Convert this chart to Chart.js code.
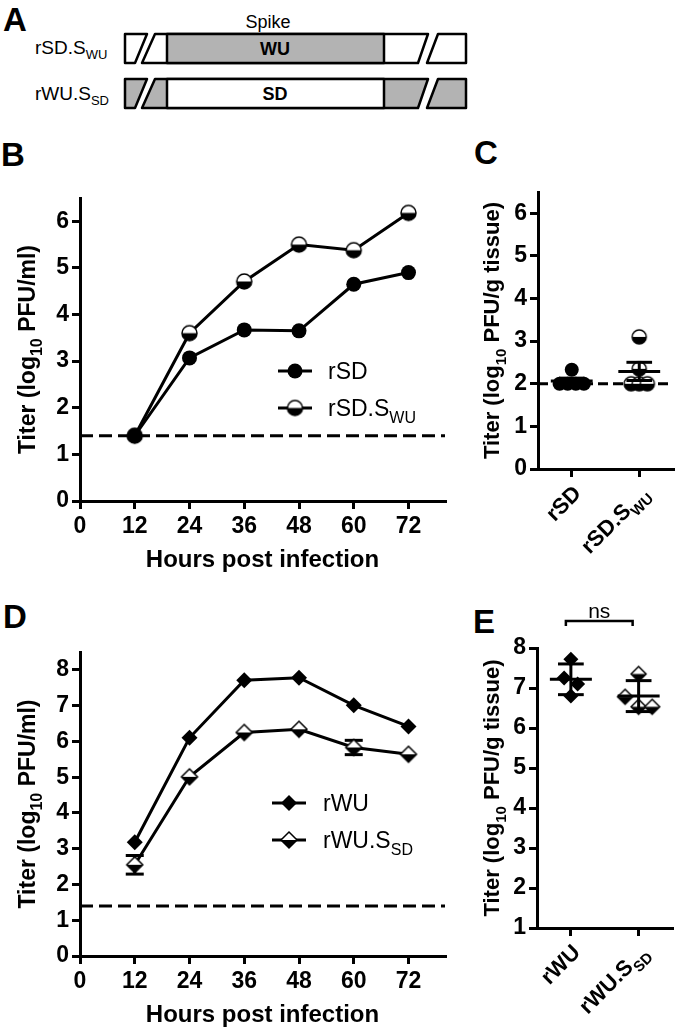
<!DOCTYPE html>
<html>
<head>
<meta charset="utf-8">
<script src="https://cdn.jsdelivr.net/npm/chart.js@4.4.0/dist/chart.umd.min.js"></script>
<style>
  body { margin: 0; background: #fff; font-family: "Liberation Sans", Arial, Helvetica, sans-serif; }
  #page { position: relative; width: 680px; height: 1031px; overflow: hidden; background: #fff; }
  canvas { position: absolute; }
  .lab { position: absolute; font-weight: bold; font-size: 33px; line-height: 1; color: #000; }
</style>
</head>
<body>
<div id="page">
  <!-- panel A: construct schematic -->
  <svg width="680" height="115" style="position:absolute;left:0;top:0" font-family="Liberation Sans, Arial, sans-serif">
    <text x="268" y="28" font-size="18" text-anchor="middle">Spike</text>
    <text x="35" y="54" font-size="19">rSD.S<tspan dy="5" font-size="13">WU</tspan></text>
    <text x="35" y="100" font-size="19">rWU.S<tspan dy="5" font-size="13">SD</tspan></text>
    <g stroke="#000" stroke-width="2.5" stroke-linejoin="round">
      <polygon points="125,34 147,34 135,63 125,63" fill="#fff"/>
      <polygon points="155,34 428,34 418,63 142,63" fill="#fff"/>
      <rect x="167" y="34" width="217" height="29" fill="#b3b3b3"/>
      <polygon points="438,34 466,34 466,63 427,63" fill="#fff"/>
      <polygon points="125,79 147,79 135,108 125,108" fill="#b3b3b3"/>
      <polygon points="155,79 428,79 418,108 142,108" fill="#b3b3b3"/>
      <rect x="167" y="79" width="217" height="29" fill="#fff"/>
      <polygon points="438,79 466,79 466,108 427,108" fill="#b3b3b3"/>
    </g>
    <text x="275" y="55" font-size="18" font-weight="bold" text-anchor="middle">WU</text>
    <text x="275" y="100" font-size="18" font-weight="bold" text-anchor="middle">SD</text>
  </svg>
  <div class="lab" style="left:3px;top:3px">A</div>
  <div class="lab" style="left:1px;top:138px">B</div>
  <div class="lab" style="left:474px;top:136px">C</div>
  <div class="lab" style="left:3px;top:600px">D</div>
  <div class="lab" style="left:473px;top:605px">E</div>

  <canvas id="chartB" width="460" height="400" style="left:0;top:180px"></canvas>
  <canvas id="chartC" width="220" height="410" style="left:460px;top:170px"></canvas>
  <canvas id="chartD" width="460" height="401" style="left:0;top:630px"></canvas>
  <canvas id="chartE" width="220" height="441" style="left:460px;top:590px"></canvas>
</div>
<script>
// growth curves (log10 PFU/ml)
var hours = [12, 24, 36, 48, 60, 72];
var rSD = [1.4, 3.07, 3.67, 3.65, 4.65, 4.9];
var rSDswu = [1.4, 3.6, 4.71, 5.5, 5.38, 6.18];
var rWU = [3.18, 6.1, 7.71, 7.78, 7.01, 6.42];
var rWUssd = [2.55, 5.01, 6.25, 6.34, 5.83, 5.64];
var rWUssdErr = [0.26, 0, 0, 0, 0.2, 0];
var limitCurve = 1.4;

// tissue titers (log10 PFU/g)
var groupsC = ["rSD", "rSD.SWU"];
var tissueSD = [2.33, 2.0, 2.0, 2.0, 2.0];
var tissueSDswu = [3.1, 2.35, 2.0, 2.0, 2.0];
var limitTissue = 2;
var groupsE = ["rWU", "rWU.SSD"];
var tissueWU = [7.72, 7.25, 7.1, 6.8];
var tissueWUssd = [7.35, 6.78, 6.53, 6.53];

// tick labels
var hourTicks = [0, 12, 24, 36, 48, 60, 72];
var yTicksB = [0, 1, 2, 3, 4, 5, 6];
var yTicksC = [0, 1, 2, 3, 4, 5, 6];
var yTicksD = [0, 1, 2, 3, 4, 5, 6, 7, 8];
var yTicksE = [1, 2, 3, 4, 5, 6, 7, 8];

var FONT = '"Liberation Sans", Arial, Helvetica, sans-serif';
Chart.defaults.font.family = FONT;
Chart.defaults.color = "#000";

//text with subscripts, anchor = middle of the capitals
function drawRich(ctx, parts, x, y, o) {
  var size = o.size, weight = o.bold ? "bold " : "";
  var subSize = Math.round(size * 0.68);
  var segs = parts.map(function (p) {
    return Array.isArray(p) ? { t: p[0], sub: true } : { t: p, sub: false };
  });
  ctx.save();
  ctx.translate(x, y);
  if (o.rotate) ctx.rotate(o.rotate);
  var w = 0;
  segs.forEach(function (s) {
    ctx.font = weight + (s.sub ? subSize : size) + "px " + FONT;
    s.w = ctx.measureText(s.t).width;
    w += s.w;
  });
  var cx = o.align == "center" ? -w / 2 : o.align == "right" ? -w : 0;
  ctx.textAlign = "left";
  ctx.textBaseline = "alphabetic";
  ctx.fillStyle = "#000";
  var base = size * 0.36;
  segs.forEach(function (s) {
    ctx.font = weight + (s.sub ? subSize : size) + "px " + FONT;
    ctx.fillText(s.t, cx, base + (s.sub ? size * 0.3 : 0));
    cx += s.w;
  });
  ctx.restore();
}

//marker with white top half and black bottom half
function halfMarker(shape, r) {
  var s = Math.ceil(r * 2 + 4), c = document.createElement("canvas");
  c.width = s;
  c.height = s;
  var g = c.getContext("2d"), m = s / 2;
  g.beginPath();
  if (shape == "circle") {
    g.arc(m, m, r, 0, Math.PI * 2);
  } else {
    g.moveTo(m, m - r);
    g.lineTo(m + r, m);
    g.lineTo(m, m + r);
    g.lineTo(m - r, m);
    g.closePath();
  }
  g.fillStyle = "#fff";
  g.fill();
  g.save();
  g.clip();
  g.fillStyle = "#000";
  g.fillRect(0, m, s, s);
  g.restore();
  g.lineWidth = 1.5;
  g.strokeStyle = "#000";
  g.stroke();
  return c;
}

function drawMarker(ctx, style, r, x, y) {
  if (style instanceof HTMLCanvasElement) {
    ctx.drawImage(style, x - style.width / 2, y - style.height / 2);
    return;
  }
  ctx.beginPath();
  if (style == "circle") {
    ctx.arc(x, y, r, 0, Math.PI * 2);
  } else {
    ctx.moveTo(x, y - r);
    ctx.lineTo(x + r, y);
    ctx.lineTo(x, y + r);
    ctx.lineTo(x - r, y);
    ctx.closePath();
  }
  ctx.fillStyle = "#000";
  ctx.fill();
}

//spread points with close values side by side (column scatter)
function swarm(vals, thr, step) {
  var idx = vals.map(function (v, i) { return i; }).sort(function (a, b) { return vals[b] - vals[a]; });
  var off = vals.map(function () { return 0; });
  var row = [idx[0]];
  function flush() {
    row.forEach(function (k, j) { off[k] = (j - (row.length - 1) / 2) * step; });
  }
  for (var n = 1; n < idx.length; n++) {
    if (vals[row[row.length - 1]] - vals[idx[n]] < thr) {
      row.push(idx[n]);
    } else {
      flush();
      row = [idx[n]];
    }
  }
  flush();
  return off;
}

function mean(a) {
  return a.reduce(function (s, v) { return s + v; }, 0) / a.length;
}
function sd(a) {
  var m = mean(a);
  return Math.sqrt(a.reduce(function (s, v) { return s + (v - m) * (v - m); }, 0) / (a.length - 1));
}

function line(ctx, x1, y1, x2, y2) {
  ctx.beginPath();
  ctx.moveTo(x1, y1);
  ctx.lineTo(x2, y2);
  ctx.stroke();
}

function subLabel(name) {
  var k = name.indexOf(".S");
  return k < 0 ? [name] : [name.slice(0, k + 2), [name.slice(k + 2)]];
}

//axis options
var axisLook = {
  grid: { drawOnChartArea: false, drawTicks: true, tickLength: 8, color: "#000", lineWidth: 3 },
  border: { display: true, color: "#000", width: 3 },
};

function yAxis(min, max, ticks, width) {
  return Object.assign({
    type: "linear", min: min, max: max,
    ticks: { font: { size: 23, weight: "bold" }, padding: 3 },
    afterBuildTicks: function (s) { s.ticks = ticks.map(function (v) { return { value: v }; }); },
    afterFit: function (s) { s.width = width; },
  }, axisLook);
}

function hourAxis(height, pad) {
  return Object.assign({
    type: "linear", min: 0, max: 80,
    ticks: { font: { size: 23, weight: "bold" }, padding: 4, maxRotation: 0, autoSkip: false },
    afterBuildTicks: function (s) { s.ticks = hourTicks.map(function (v) { return { value: v }; }); },
    afterFit: function (s) { s.height = height; },
    title: { display: true, text: "Hours post infection", font: { size: 24, weight: "bold" }, padding: { top: 0, bottom: pad } },
  }, axisLook);
}

function groupAxis(groups, height) {
  return Object.assign({
    type: "linear", min: -0.5, max: 1.5,
    ticks: { callback: function () { return ""; } },
    afterBuildTicks: function (s) { s.ticks = groups.map(function (g, i) { return { value: i }; }); },
    afterFit: function (s) { s.height = height; },
  }, axisLook);
}

//growth curve chart (B and D)
function launchCurve(id, series, yMax, yTicks, pad, xHeight, titlePad, title, legend) {
  var datasets = series.map(function (s) {
    return {
      data: hours.map(function (h, i) { return { x: h, y: s.values[i] }; }),
      borderColor: "#000", borderWidth: 3,
      pointStyle: s.style, pointRadius: s.r, pointBackgroundColor: "#000",
      pointBorderColor: "#000", pointBorderWidth: 0,
    };
  });
  datasets.push({
    data: [{ x: 0, y: limitCurve }, { x: 80, y: limitCurve }],
    borderColor: "#000", borderWidth: 3, borderDash: [13, 6], pointRadius: 0,
  });

  var extras = {
    id: "extras",
    beforeDatasetsDraw: function (chart) {
      var ctx = chart.ctx, xs = chart.scales.x, ys = chart.scales.y;
      ctx.save();
      ctx.strokeStyle = "#000";
      ctx.lineWidth = 3;
      series.forEach(function (s) {
        if (!s.err) return;
        hours.forEach(function (h, i) {
          if (!s.err[i]) return;
          var px = xs.getPixelForValue(h);
          var hi = ys.getPixelForValue(s.values[i] + s.err[i]);
          var lo = ys.getPixelForValue(s.values[i] - s.err[i]);
          line(ctx, px, hi, px, lo);
          line(ctx, px - 9, hi, px + 9, hi);
          line(ctx, px - 9, lo, px + 9, lo);
        });
      });
      ctx.restore();
    },
    afterDraw: function (chart) {
      var ctx = chart.ctx, a = chart.chartArea;
      drawRich(ctx, title, 26.5, (a.top + a.bottom) / 2, { size: 23, bold: true, align: "center", rotate: -Math.PI / 2 });
      ctx.save();
      ctx.strokeStyle = "#000";
      ctx.lineWidth = 3;
      series.forEach(function (s, i) {
        var y = legend.y[i];
        line(ctx, legend.x1, y, legend.x2, y);
        drawMarker(ctx, s.style, s.r, (legend.x1 + legend.x2) / 2, y);
        drawRich(ctx, subLabel(s.name), legend.tx, y, { size: 23 });
      });
      ctx.restore();
    },
  };

  return new Chart(document.getElementById(id), {
    type: "line",
    data: { datasets: datasets },
    options: {
      responsive: false, animation: false, devicePixelRatio: 1,
      layout: { padding: pad },
      plugins: { legend: { display: false }, tooltip: { enabled: false } },
      scales: { x: hourAxis(xHeight, titlePad), y: yAxis(0, yMax, yTicks, 80) },
    },
    plugins: [extras],
  });
}

//column scatter chart (C and E)
function launchTissue(id, groups, sets, yMin, yMax, yTicks, pad, xHeight, o) {
  var datasets = sets.map(function (s, i) {
    var off = swarm(s.values, 0.29, o.step);
    return {
      data: s.values.map(function (v, k) { return { x: i + off[k], y: v }; }),
      pointStyle: s.style, pointRadius: s.r, pointBackgroundColor: "#000",
      pointBorderColor: "#000", pointBorderWidth: 0, showLine: false,
    };
  });
  if (o.limit !== undefined) {
    datasets.push({
      data: [{ x: -0.5, y: o.limit }, { x: 1.5, y: o.limit }],
      showLine: true, borderColor: "#000", borderWidth: 3, borderDash: [10, 5], pointRadius: 0,
    });
  }

  var extras = {
    id: "extras",
    afterDatasetsDraw: function (chart) {
      var ctx = chart.ctx, xs = chart.scales.x, ys = chart.scales.y;
      ctx.save();
      ctx.strokeStyle = "#000";
      ctx.lineWidth = 3;
      sets.forEach(function (s, i) {
        var m = mean(s.values);
        var e = o.sem ? sd(s.values) / Math.sqrt(s.values.length) : sd(s.values);
        var cx = xs.getPixelForValue(i);
        var hw = xs.getPixelForValue(i + 0.31) - cx;
        var cw = xs.getPixelForValue(i + 0.19) - cx;
        var my = ys.getPixelForValue(m), hi = ys.getPixelForValue(m + e), lo = ys.getPixelForValue(m - e);
        line(ctx, cx - hw, my, cx + hw, my);
        line(ctx, cx, hi, cx, lo);
        line(ctx, cx - cw, hi, cx + cw, hi);
        line(ctx, cx - cw, lo, cx + cw, lo);
      });
      ctx.restore();
    },
    afterDraw: function (chart) {
      var ctx = chart.ctx, a = chart.chartArea, xs = chart.scales.x;
      groups.forEach(function (g, i) {
        drawRich(ctx, subLabel(g), xs.getPixelForValue(i) + 5, a.bottom + 20, { size: 22, bold: true, align: "right", rotate: -Math.PI / 4 });
      });
      drawRich(ctx, o.title, 31, (a.top + a.bottom) / 2, { size: 22, bold: true, align: "center", rotate: -Math.PI / 2 });
      if (o.ns) {
        var x1 = xs.getPixelForValue(0) - 5, x2 = xs.getPixelForValue(1) - 6;
        ctx.save();
        ctx.strokeStyle = "#000";
        ctx.lineWidth = 2.5;
        ctx.beginPath();
        ctx.moveTo(x1, 36);
        ctx.lineTo(x1, 31);
        ctx.lineTo(x2, 31);
        ctx.lineTo(x2, 36);
        ctx.stroke();
        ctx.restore();
        drawRich(ctx, ["ns"], (x1 + x2) / 2, 20, { size: 21, align: "center" });
      }
    },
  };

  return new Chart(document.getElementById(id), {
    type: "scatter",
    data: { datasets: datasets },
    options: {
      responsive: false, animation: false, devicePixelRatio: 1,
      layout: { padding: pad },
      plugins: { legend: { display: false }, tooltip: { enabled: false } },
      scales: { x: groupAxis(groups, xHeight), y: yAxis(yMin, yMax, yTicks, o.yWidth) },
    },
    plugins: [extras],
  });
}

var halfCircleB = halfMarker("circle", 7.5);
var halfCircleC = halfMarker("circle", 7);
var halfDiamondD = halfMarker("diamond", 8);
var halfDiamondE = halfMarker("diamond", 7.5);

launchCurve("chartB", [
  { name: "rSD", values: rSD, style: "circle", r: 7.5 },
  { name: "rSD.SWU", values: rSDswu, style: halfCircleB, r: 7.5 },
], 6.5, yTicksB, { top: 18, right: 15, left: 0, bottom: 0 }, 79, 5,
  ["Titer (log", ["10"], " PFU/ml)"],
  { x1: 278, x2: 312, tx: 328, y: [191, 228] });

launchCurve("chartD", [
  { name: "rWU", values: rWU, style: "rectRot", r: 8 },
  { name: "rWU.SSD", values: rWUssd, style: halfDiamondD, r: 8, err: rWUssdErr },
], 8.5, yTicksD, { top: 22, right: 15, left: 0, bottom: 0 }, 75, 1,
  ["Titer (log", ["10"], " PFU/ml)"],
  { x1: 272, x2: 306, tx: 323, y: [173, 210] });

launchTissue("chartC", groupsC, [
  { values: tissueSD, style: "circle", r: 7 },
  { values: tissueSDswu, style: halfCircleC, r: 7 },
], 0, 6.5, yTicksC, { top: 22, right: 3, left: 0, bottom: 0 }, 111,
  { step: 0.12, sem: true, limit: limitTissue, yWidth: 78, title: ["Titer (log", ["10"], " PFU/g tissue)"] });

launchTissue("chartE", groupsE, [
  { values: tissueWU, style: "rectRot", r: 7.5 },
  { values: tissueWUssd, style: halfDiamondE, r: 7.5 },
], 1, 8, yTicksE, { top: 58, right: 3, left: 0, bottom: 0 }, 103,
  { step: 0.2, sem: false, ns: true, yWidth: 77, title: ["Titer (log", ["10"], " PFU/g tissue)"] });
</script>
</body>
</html>
